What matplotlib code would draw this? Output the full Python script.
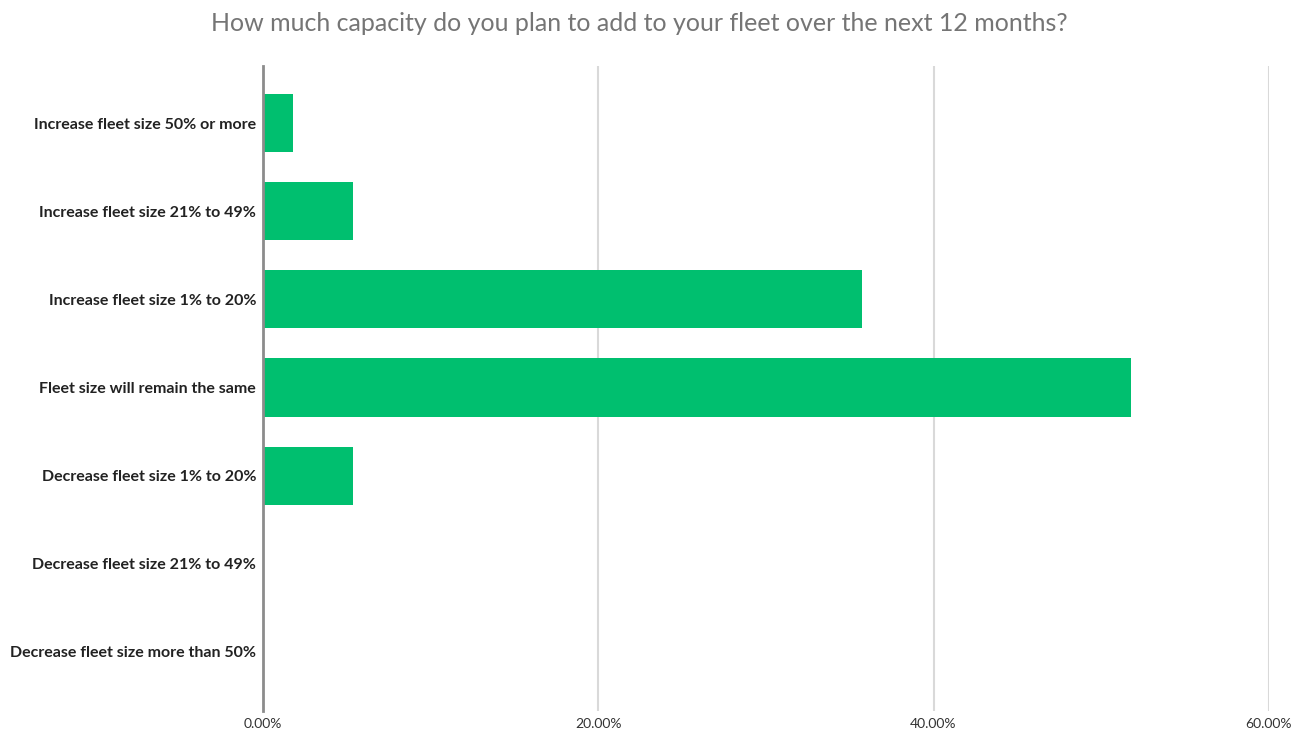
import matplotlib
matplotlib.use("Agg")
import matplotlib.pyplot as plt
from matplotlib.ticker import FuncFormatter

categories = ["Increase fleet size 50% or more", "Increase fleet size 21% to 49%",
              "Increase fleet size 1% to 20%", "Fleet size will remain the same",
              "Decrease fleet size 1% to 20%", "Decrease fleet size 21% to 49%",
              "Decrease fleet size more than 50%"]
share = [1.79, 5.36, 35.71, 51.79, 5.36, 0.0, 0.0]  # percent of respondents
xticks = [0, 20, 40, 60]

plt.rcParams['font.family'] = ['Lato', 'DejaVu Sans']
fig = plt.figure(figsize=(12.92, 7.34), dpi=100)
ax = fig.add_axes([0.2036, 0.0313, 0.7784, 0.8787])

y = list(range(len(categories)))
ax.barh(y, share, height=0.66, color='#00BF6F', zorder=3)
ax.set_ylim(6.67, -0.646)
ax.set_xlim(0, 60)

ax.set_yticks(y)
ax.set_yticklabels(categories, fontsize=11.5, fontweight='bold', color='#222222')
ax.set_xticks(xticks)
ax.xaxis.set_major_formatter(FuncFormatter(lambda v, p: f"{v:.2f}%"))
ax.tick_params(axis='x', labelsize=10, length=0, pad=5)
ax.tick_params(axis='y', length=0, pad=5)
for lbl in ax.get_xticklabels():
    lbl.set_color('#333333')

ax.grid(axis='x', color='#d9d9d9', lw=1.5, zorder=0)
for s in ['top', 'right', 'bottom']:
    ax.spines[s].set_visible(False)
ax.spines['left'].set_color('#8c8c8c')
ax.spines['left'].set_linewidth(2)
ax.spines['left'].set_zorder(4)

fig.text(0.4946, 0.968, "How much capacity do you plan to add to your fleet over the next 12 months?",
         ha='center', va='center', fontsize=18, color='#757575')

fig.savefig("out.png", dpi=100)
